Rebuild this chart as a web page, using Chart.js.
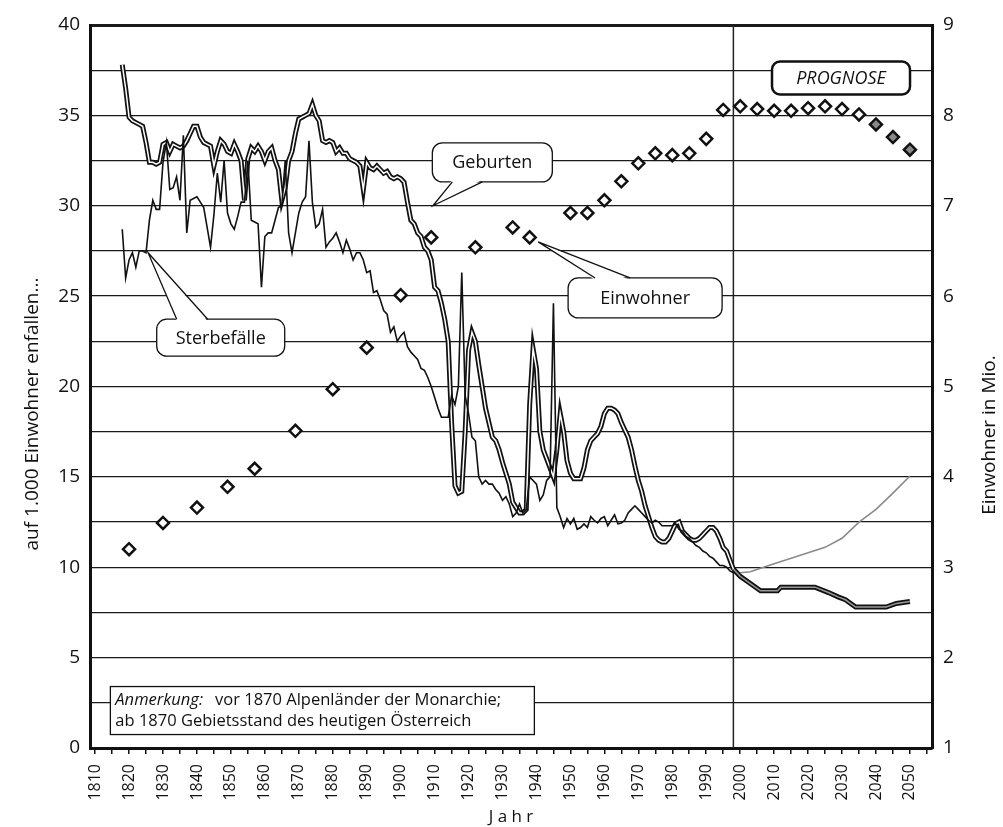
<!DOCTYPE html>
<html>
<head>
<meta charset="utf-8">
<script src="https://cdn.jsdelivr.net/npm/chart.js@4.4.1/dist/chart.umd.min.js"></script>
<style>
  html, body { margin: 0; padding: 0; background: #fff; }
</style>
</head>
<body>
<canvas id="chart" width="1003" height="827"></canvas>
<script>
// --- data -------------------------------------------------------------
// births / deaths per 1,000 inhabitants, one value per year from 1818 to 1998
const firstYear = 1818;
const birthRates = [
  37.8, 36.5, 34.9, 34.7, 34.6, 34.5, 34.4, 33.5, 32.4, 32.4,
  32.3, 32.4, 33.4, 33.5, 33.0, 33.4, 33.3, 33.2, 33.3, 33.6,
  34.0, 34.4, 34.4, 33.8, 33.5, 33.4, 33.3, 32.2, 33.0, 33.6,
  33.4, 33.0, 32.9, 33.4, 33.0, 32.5, 30.3, 32.6, 33.2, 33.0,
  33.3, 33.0, 32.5, 33.0, 33.2, 32.5, 32.0, 30.3, 31.0, 32.5,
  33.0, 34.0, 34.8, 34.9, 35.0, 35.1, 35.6, 35.0, 34.7, 33.6,
  33.5, 33.6, 33.5, 33.0, 33.2, 32.9, 32.9, 32.6, 32.5, 32.4,
  32.2, 30.9, 32.4, 32.1, 32.0, 32.2, 32.0, 31.8, 31.9, 31.6,
  31.5, 31.6, 31.5, 31.3, 30.2, 29.2, 29.0, 28.5, 28.3, 27.7,
  27.5, 27.0, 25.5, 25.3, 24.6, 23.7, 22.5, 18.0, 14.5, 14.1,
  14.2, 17.5, 22.0, 23.0, 22.5, 21.2, 20.0, 18.8, 18.0, 17.2,
  17.0, 16.5, 15.8, 15.2, 14.6, 13.6, 13.3, 13.0, 13.0, 13.2,
  19.0, 22.1, 21.0, 17.5, 16.5, 16.0, 15.5, 15.0, 16.5, 18.5,
  17.5, 15.9, 15.2, 14.9, 14.9, 14.9, 15.5, 16.5, 17.0, 17.2,
  17.4, 17.8, 18.5, 18.8, 18.8, 18.7, 18.5, 18.0, 17.6, 17.2,
  16.5, 15.6, 14.8, 14.2, 13.4, 12.8, 12.2, 11.7, 11.5, 11.4,
  11.4, 11.6, 12.0, 12.4, 12.5, 12.0, 11.8, 11.6, 11.5, 11.5,
  11.6, 11.8, 12.0, 12.2, 12.2, 12.0, 11.6, 11.1, 10.9, 10.4,
  9.9
];
const deathRates = [
  28.7, 26.0, 27.0, 27.4, 26.6, 27.5, 27.5, 27.4, 29.2, 30.3,
  29.8, 29.8, 32.4, 33.5, 30.9, 31.0, 31.6, 30.3, 33.9, 28.5,
  30.3, 30.4, 30.5, 30.2, 29.9, 28.8, 27.7, 29.5, 31.8, 30.2,
  32.5, 29.6, 29.0, 28.7, 29.4, 30.2, 30.2, 32.5, 29.2, 29.1,
  29.0, 25.5, 28.3, 28.5, 28.5, 29.2, 29.9, 30.0, 32.5, 28.5,
  27.4, 28.5, 29.6, 30.2, 30.5, 33.6, 30.2, 28.8, 29.0, 29.8,
  27.7, 28.0, 28.2, 28.5, 28.0, 27.4, 28.1, 27.6, 27.0, 27.4,
  27.4, 27.0, 26.3, 26.4, 25.2, 25.3, 24.8, 24.2, 24.0, 23.0,
  23.3, 22.5, 22.8, 23.0, 22.2, 21.9, 21.7, 21.5, 21.0, 20.9,
  20.5, 20.0, 19.4, 18.8, 18.3, 18.3, 18.3, 19.5, 19.0, 20.0,
  26.3, 19.5, 18.5, 17.2, 17.0, 15.0, 14.6, 14.8, 14.6, 14.6,
  14.3, 14.1, 13.7, 13.9, 13.5, 12.8, 13.0, 13.5, 13.0, 13.2,
  15.0, 14.8, 14.6, 13.7, 14.0, 14.8, 15.0, 24.6, 13.3, 12.8,
  12.2, 12.7, 12.4, 12.7, 12.1, 12.2, 12.4, 12.2, 12.8, 12.6,
  12.45, 12.7, 12.8, 12.3, 12.6, 12.9, 12.4, 12.45, 12.6, 13.0,
  13.2, 13.4, 13.2, 13.0, 12.8, 12.6, 12.45, 12.6, 12.5, 12.3,
  12.3, 12.3, 12.3, 12.4, 12.1, 12.0, 11.7, 11.6, 11.4, 11.2,
  11.1, 10.9, 10.8, 10.6, 10.5, 10.3, 10.1, 10.1, 10.0, 9.8,
  9.7
];

// forecast (PROGNOSE)
const birthProgYears = [1998, 2000, 2003, 2006, 2011, 2012, 2022, 2026, 2029, 2031, 2034, 2043, 2046, 2050];
const birthProgRates = [9.9, 9.5, 9.1, 8.7, 8.7, 8.9, 8.9, 8.6, 8.35, 8.2, 7.8, 7.8, 8.0, 8.1];
const deathProgYears = [2000, 2003, 2006, 2010, 2015, 2020, 2025, 2030, 2035, 2040, 2045, 2050];
const deathProgRates = [9.7, 9.75, 9.95, 10.2, 10.5, 10.8, 11.1, 11.6, 12.5, 13.2, 14.1, 15.05];

// inhabitants in millions (right axis)
const popYears = [1820, 1830, 1840, 1849, 1857, 1869, 1880, 1890, 1900, 1909, 1922, 1933, 1938,
  1950, 1955, 1960, 1965, 1970, 1975, 1980, 1985, 1990, 1995, 2000];
const popMio = [3.2, 3.49, 3.66, 3.89, 4.09, 4.51, 4.97, 5.43, 6.01, 6.65, 6.54, 6.76, 6.65,
  6.92, 6.92, 7.06, 7.27, 7.47, 7.58, 7.56, 7.58, 7.74, 8.06, 8.10];
const popProgYears = [2005, 2010, 2015, 2020, 2025, 2030, 2035, 2040, 2045, 2050];
const popProgMio = [8.07, 8.05, 8.05, 8.08, 8.10, 8.07, 8.01, 7.90, 7.76, 7.62];

// axes
const xTickYears = [1810, 1815, 1820, 1825, 1830, 1835, 1840, 1845, 1850, 1855, 1860, 1865,
  1870, 1875, 1880, 1885, 1890, 1895, 1900, 1905, 1910, 1915, 1920, 1925, 1930, 1935, 1940,
  1945, 1950, 1955, 1960, 1965, 1970, 1975, 1980, 1985, 1990, 1995, 2000, 2005, 2010, 2015,
  2020, 2025, 2030, 2035, 2040, 2045, 2050, 2055];
const leftTicks = [0, 2.5, 5, 7.5, 10, 12.5, 15, 17.5, 20, 22.5, 25, 27.5, 30, 32.5, 35, 37.5, 40];
const rightTicks = [1, 2, 3, 4, 5, 6, 7, 8, 9];
const prognosisStart = 1998;

const callouts = [
  { text: 'Geburten', year: 1927, value: 32.4, w: 120, h: 39, side: 'bottom', tail: [-40, -10], tipYear: 1909.5, tipValue: 30.0 },
  { text: 'Einwohner', year: 1972, value: 24.9, w: 154, h: 40, side: 'top', tail: [-50, -15], tipYear: 1940.5, tipValue: 28.0 },
  { text: 'Sterbefälle', year: 1847, value: 22.7, w: 128, h: 37, side: 'top', tail: [-44, -13], tipYear: 1825.6, tipValue: 27.4 }
];

const font = '"Open Sans", "DejaVu Sans", sans-serif';

const pts = (years, vals) => vals.map((v, i) => ({ x: years[i], y: v }));
const annual = vals => vals.map((v, i) => ({ x: firstYear + i, y: v }));

const lineBase = { showLine: true, pointRadius: 0, tension: 0, fill: false, yAxisID: 'y' };

function drawCallout(ctx, c, x, y) {
  const cx = x.getPixelForValue(c.year), cy = y.getPixelForValue(c.value);
  const tx = x.getPixelForValue(c.tipYear), ty = y.getPixelForValue(c.tipValue);
  const edge = c.side === 'top' ? cy - c.h / 2 : cy + c.h / 2;
  const inward = c.side === 'top' ? 2 : -2;
  const b1 = cx + c.tail[0], b2 = cx + c.tail[1];
  ctx.save();
  ctx.fillStyle = '#fff';
  ctx.strokeStyle = '#111';
  ctx.lineWidth = 1.3;
  ctx.beginPath();
  ctx.roundRect(cx - c.w / 2, cy - c.h / 2, c.w, c.h, 10);
  ctx.fill();
  ctx.stroke();
  ctx.beginPath();
  ctx.moveTo(b1, edge + inward);
  ctx.lineTo(tx, ty);
  ctx.lineTo(b2, edge + inward);
  ctx.closePath();
  ctx.fill();
  ctx.beginPath();
  ctx.moveTo(b1, edge);
  ctx.lineTo(tx, ty);
  ctx.lineTo(b2, edge);
  ctx.stroke();
  ctx.fillStyle = '#111';
  ctx.font = '18px ' + font;
  ctx.textAlign = 'center';
  ctx.textBaseline = 'middle';
  ctx.fillText(c.text, cx, cy + 1);
  ctx.restore();
}

function sideTitle(ctx, text, cx, cy) {
  ctx.save();
  ctx.fillStyle = '#111';
  ctx.font = '19px ' + font;
  ctx.textAlign = 'center';
  ctx.textBaseline = 'middle';
  ctx.translate(cx, cy);
  ctx.rotate(-Math.PI / 2);
  ctx.fillText(text, 0, 0);
  ctx.restore();
}

const annotate = {
  id: 'annotate',
  beforeDatasetsDraw(chart) {
    const { ctx, chartArea: a, scales: { x } } = chart;
    const px = x.getPixelForValue(prognosisStart);
    ctx.save();
    ctx.strokeStyle = '#222';
    ctx.lineWidth = 1.5;
    ctx.beginPath();
    ctx.moveTo(px, a.top);
    ctx.lineTo(px, a.bottom);
    ctx.stroke();
    ctx.restore();
  },
  afterDatasetsDraw(chart) {
    const { ctx, scales: { x, y } } = chart;
    callouts.forEach(c => drawCallout(ctx, c, x, y));

    // PROGNOSE label
    const px = x.getPixelForValue(2029.7), py = y.getPixelForValue(37.1);
    ctx.save();
    ctx.fillStyle = '#fff';
    ctx.strokeStyle = '#111';
    ctx.lineWidth = 2.5;
    ctx.beginPath();
    ctx.roundRect(px - 69, py - 16, 138, 33, 8);
    ctx.fill();
    ctx.stroke();
    ctx.fillStyle = '#111';
    ctx.font = 'italic 18px ' + font;
    ctx.textAlign = 'center';
    ctx.textBaseline = 'middle';
    ctx.fillText('PROGNOSE', px, py + 1);
    ctx.restore();

    // note box
    const nx = x.getPixelForValue(1814.5), ny = y.getPixelForValue(3.4);
    ctx.save();
    ctx.fillStyle = '#fff';
    ctx.strokeStyle = '#111';
    ctx.lineWidth = 1.3;
    ctx.fillRect(nx, ny, 424, 48);
    ctx.strokeRect(nx, ny, 424, 48);
    ctx.fillStyle = '#111';
    ctx.textBaseline = 'middle';
    ctx.font = 'italic 16.5px ' + font;
    ctx.fillText('Anmerkung:', nx + 5, ny + 14);
    const w = ctx.measureText('Anmerkung:').width;
    ctx.font = '16.5px ' + font;
    ctx.fillText('vor 1870 Alpenländer der Monarchie;', nx + 5 + w + 12, ny + 14);
    ctx.fillText('ab 1870 Gebietsstand des heutigen Österreich', nx + 5, ny + 35);
    ctx.restore();
  },
  afterDraw(chart) {
    sideTitle(chart.ctx, 'auf 1.000 Einwohner enfallen...', 33, 414);
    sideTitle(chart.ctx, 'Einwohner in Mio.', 990, 435);
  }
};

new Chart(document.getElementById('chart'), {
  type: 'scatter',
  data: {
    datasets: [
      { ...lineBase, label: 'Geburten', data: annual(birthRates), borderColor: '#111', borderWidth: 5, order: 5 },
      { ...lineBase, label: 'Geburten innen', data: annual(birthRates), borderColor: '#fff', borderWidth: 1.5, order: 4 },
      { ...lineBase, label: 'Geburten Prognose', data: pts(birthProgYears, birthProgRates), borderColor: '#111', borderWidth: 5, order: 5 },
      { ...lineBase, label: 'Geburten Prognose innen', data: pts(birthProgYears, birthProgRates), borderColor: '#999', borderWidth: 1.5, order: 4 },
      { ...lineBase, label: 'Sterbefälle', data: annual(deathRates), borderColor: '#111', borderWidth: 1.6, order: 3 },
      { ...lineBase, label: 'Sterbefälle Prognose', data: pts(deathProgYears, deathProgRates), borderColor: '#8a8a8a', borderWidth: 1.6, order: 3 },
      {
        label: 'Einwohner', yAxisID: 'y2', showLine: false,
        data: pts(popYears, popMio).concat(pts(popProgYears, popProgMio)),
        pointStyle: 'rectRot', pointRadius: 6, pointBorderWidth: 2.5,
        pointBorderColor: '#111',
        pointBackgroundColor: ctx => (ctx.raw && ctx.raw.x >= 2040 ? '#888' : '#fff'),
        order: 0
      }
    ]
  },
  options: {
    responsive: false,
    animation: false,
    devicePixelRatio: 1,
    layout: { padding: { top: 25, left: 0, right: 0, bottom: 0 } },
    plugins: { legend: { display: false }, tooltip: { enabled: false } },
    scales: {
      x: {
        type: 'linear',
        position: 'bottom',
        min: 1808.5,
        max: 2056.5,
        afterBuildTicks: s => { s.ticks = xTickYears.map(v => ({ value: v })); },
        afterFit: s => { s.height = 79; },
        ticks: {
          autoSkip: false, minRotation: 90, maxRotation: 90, padding: 10,
          color: '#111', font: { family: font, size: 16 },
          callback: v => (v % 10 === 0 ? String(v) : '')
        },
        grid: { drawOnChartArea: false, drawTicks: true, tickLength: 6, color: '#111', lineWidth: 1.5 },
        border: { color: '#111', width: 3 },
        title: { display: true, text: 'J a h r', color: '#111', font: { family: font, size: 17 }, padding: 0 }
      },
      y: {
        position: 'left',
        min: 0,
        max: 40,
        afterBuildTicks: s => { s.ticks = leftTicks.map(v => ({ value: v })); },
        afterFit: s => { s.width = 90; },
        ticks: {
          padding: 10, color: '#111', font: { family: font, size: 19 },
          callback: v => (v % 5 === 0 ? String(v) : '')
        },
        grid: {
          drawTicks: false,
          color: '#1a1a1a',
          lineWidth: ctx => (ctx.tick && ctx.tick.value === 40 ? 3 : 1.3)
        },
        border: { color: '#111', width: 3 }
      },
      y2: {
        position: 'right',
        min: 1,
        max: 9,
        afterBuildTicks: s => { s.ticks = rightTicks.map(v => ({ value: v })); },
        afterFit: s => { s.width = 71; },
        ticks: { padding: 11, color: '#111', font: { family: font, size: 19 } },
        grid: { drawOnChartArea: false, drawTicks: false },
        border: { color: '#111', width: 3 }
      }
    }
  },
  plugins: [annotate]
});
</script>
</body>
</html>
